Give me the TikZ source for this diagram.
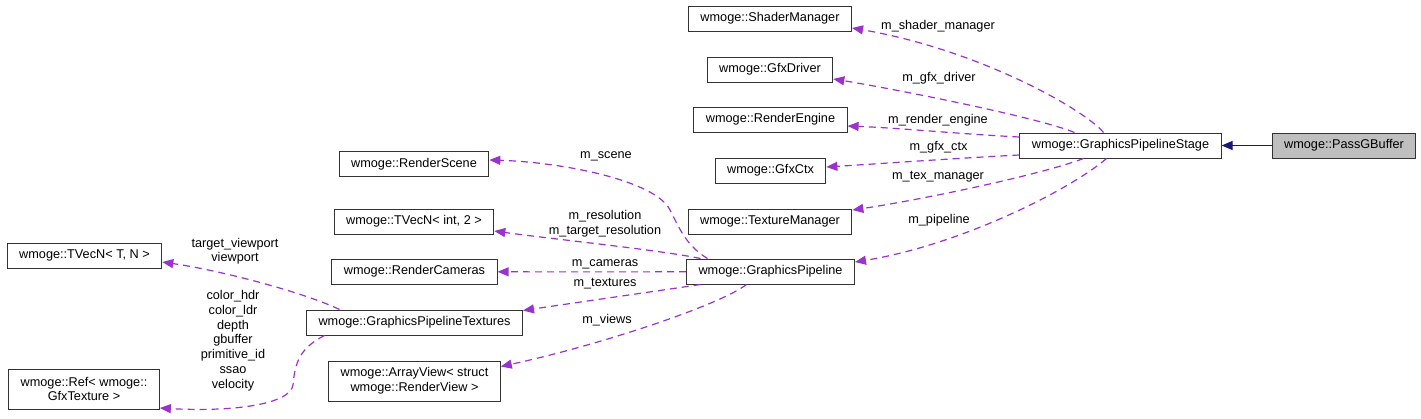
\documentclass[tikz,border=0pt]{standalone}
\usepackage{fontspec}
\setmainfont{Liberation Sans}
\usepackage{tikz}
\usetikzlibrary{arrows.meta,positioning,calc}
\definecolor{LinkPurple}{HTML}{9A32CD}
\definecolor{BaseNavy}{HTML}{191970}
\definecolor{NodeGray}{HTML}{BFBFBF}
\newcommand{\dgfont}{\fontsize{12.7}{14.8}\selectfont}

\begin{document}
\begin{tikzpicture}[x=1pt,y=-1pt,
  cls/.style={draw=black!80,line width=1pt,fill=white,minimum height=25pt,
    inner xsep=12pt,inner ysep=0pt,font=\dgfont,align=center},
  member/.style={draw=LinkPurple,line width=1.2pt,dash pattern=on 7pt off 5pt,
    -{Triangle[length=11pt,width=9pt,fill=LinkPurple]}},
  inherit/.style={draw=BaseNavy,line width=1.2pt,
    -{Triangle[length=11pt,width=9pt,fill=BaseNavy]}},
  lbl/.style={font=\dgfont,align=center,inner sep=0pt}]
  \useasboundingbox (0,0) rectangle (1421,418);
  % classes
  \node[cls] (shader) at (770,18.5) {wmoge::ShaderManager};
  \node[cls] (driver) at (770,69.5) {wmoge::GfxDriver};
  \node[cls] (engine) at (770.5,119.5) {wmoge::RenderEngine};
  \node[cls] (ctx) at (770.5,170.5) {wmoge::GfxCtx};
  \node[cls] (texmgr) at (770,221.5) {wmoge::TextureManager};
  \node[cls] (pipe) at (770.5,271.5) {wmoge::GraphicsPipeline};
  \node[cls] (stage) at (1120.5,145.5) {wmoge::GraphicsPipelineStage};
  \node[cls,fill=NodeGray] (pass) at (1344,145.5) {wmoge::PassGBuffer};
  \node[cls] (scene) at (414,164) {wmoge::RenderScene};
  \node[cls] (vecint) at (414,221.5) {wmoge::TVecN< int, 2 >};
  \node[cls] (cams) at (414.5,271.5) {wmoge::RenderCameras};
  \node[cls] (textures) at (414.5,322.5) {wmoge::GraphicsPipelineTextures};
  \node[cls,minimum height=40pt] (views) at (414.5,381) {wmoge::ArrayView< struct\\wmoge::RenderView >};
  \node[cls] (vect) at (84.5,255.5) {wmoge::TVecN< T, N >};
  \node[cls,minimum height=40pt] (ref) at (84,389) {wmoge::Ref< wmoge::\\GfxTexture >};
  % inheritance
  \draw[inherit] (pass.west) -- (stage.east);
  % members of the stage
  \draw[member] ([xshift=-17pt]stage.north) .. controls (1085,110) and (980,50) .. ([yshift=-9.5pt]shader.east);
  \draw[member] ([xshift=-46pt]stage.north) .. controls (1040,118) and (900,90) .. ([yshift=-9.5pt]driver.east);
  \draw[member] ([yshift=8.5pt]stage.west) .. controls (960,134) and (900,128) .. ([yshift=-6.5pt]engine.east);
  \draw[member] ([yshift=-9.5pt]stage.west) .. controls (960,158) and (890,163) .. ([yshift=3.5pt]ctx.east);
  \draw[member] ([xshift=-37pt]stage.south) .. controls (1040,175) and (920,200) .. ([yshift=11.5pt]texmgr.east);
  \draw[member] ([xshift=-14pt]stage.south) .. controls (1070,190) and (960,245) .. ([yshift=9.5pt]pipe.east);
  \node[lbl] (l-shader) at (938,26) {m\_shader\_manager};
  \node[lbl] (l-driver) at (939,78) {m\_gfx\_driver};
  \node[lbl] (l-engine) at (938,120.5) {m\_render\_engine};
  \node[lbl] (l-ctx) at (938.5,147.5) {m\_gfx\_ctx};
  \node[lbl] (l-texmgr) at (938,176.5) {m\_tex\_manager};
  \node[lbl] (l-pipe) at (939,220) {m\_pipeline};
  % members of the pipeline
  \draw[member] ([xshift=-63pt]pipe.north) .. controls (685,245) and (678,225) .. (670,210)
    .. controls (655,180) and (560,162) .. ([yshift=4pt]scene.east);
  \draw[member] ([xshift=-70pt]pipe.north) .. controls (660,250) and (560,240) .. ([yshift=-9.5pt]vecint.east);
  \draw[member] ([yshift=-0.3pt]pipe.west) .. controls (620,271.9) and (560,271.9) .. ([yshift=-0.3pt]cams.east);
  \draw[member] ([xshift=-70pt]pipe.south) .. controls (650,292) and (580,302) .. ([yshift=12pt]textures.east);
  \draw[member] ([xshift=-24pt]pipe.south) .. controls (720,305) and (600,345) .. ([yshift=14.5pt]views.east);
  \node[lbl] (l-scene) at (606,156.5) {m\_scene};
  \node[lbl] (l-vecint) at (605,223.5) {m\_resolution\\m\_target\_resolution};
  \node[lbl] (l-cams) at (605,264) {m\_cameras};
  \node[lbl] (l-textures) at (605,284) {m\_textures};
  \node[lbl] (l-views) at (607,320) {m\_views};
  % members of the textures
  \draw[member] ([xshift=-75pt]textures.north) .. controls (310,295) and (230,272) .. ([yshift=-6.5pt]vect.east);
  \draw[member] ([xshift=-90pt]textures.south) .. controls (300,348) and (295,362) .. (293,385)
    .. controls (290,405) and (230,412) .. ([yshift=-19pt]ref.east);
  \node[lbl] (l-vect) at (235,251.3) {target\_viewport\\viewport};
  \node[lbl] (l-ref) at (233,340.7) {color\_hdr\\color\_ldr\\depth\\gbuffer\\primitive\_id\\ssao\\velocity};
\end{tikzpicture}
\end{document}
